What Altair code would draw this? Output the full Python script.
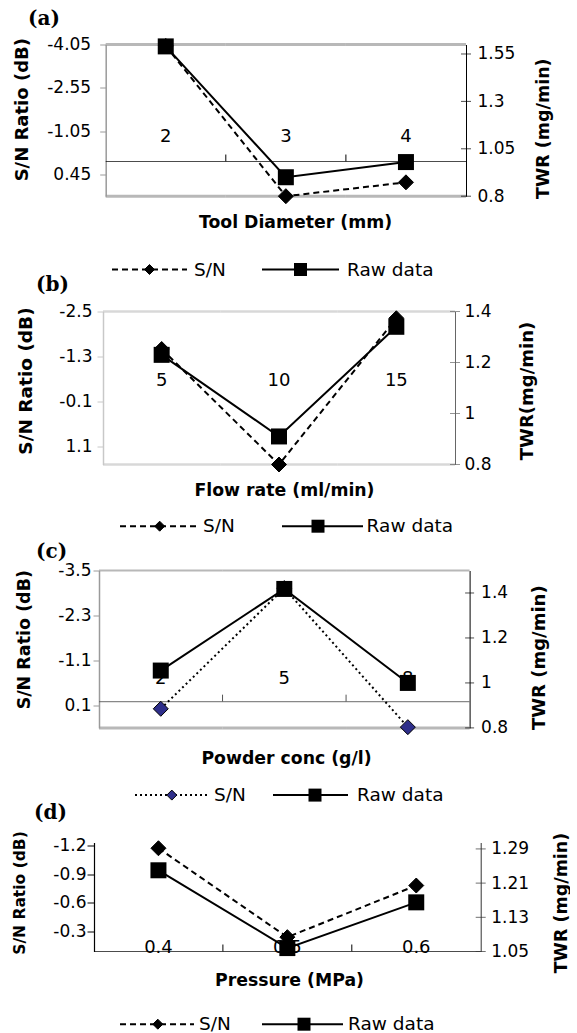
import altair as alt
import pandas as pd

SANS = "DejaVu Sans"
SERIF = "DejaVu Serif"

series_names = ["S/N", "Raw data"]

# (a) tool diameter
a_levels = ["2", "3", "4"]
a_sn = [-4.0, 1.2, 0.72]
a_twr = [1.59, 0.90, 0.98]
a_sn_ticks = [-4.05, -2.55, -1.05, 0.45]
a_twr_ticks = [0.8, 1.05, 1.3, 1.55]

# (b) flow rate
b_levels = ["5", "10", "15"]
b_sn = [-1.5, 1.58, -2.32]
b_twr = [1.23, 0.91, 1.34]
b_sn_ticks = [-2.5, -1.3, -0.1, 1.1]
b_twr_ticks = [0.8, 1.0, 1.2, 1.4]

# (c) powder concentration
c_levels = ["2", "5", "8"]
c_sn = [0.19, -3.03, 0.68]
c_twr = [1.055, 1.418, 1.0]
c_sn_ticks = [-3.5, -2.3, -1.1, 0.1]
c_twr_ticks = [0.8, 1.0, 1.2, 1.4]

# (d) pressure
d_levels = ["0.4", "0.5", "0.6"]
d_sn = [-1.17, -0.24, -0.78]
d_twr = [1.24, 1.058, 1.165]
d_sn_ticks = [-1.2, -0.9, -0.6, -0.3]
d_twr_ticks = [1.05, 1.13, 1.21, 1.29]

X0 = 95  # common x origin of every stacked view

panels = [
    dict(tag="(a)", tag_x=29, tag_off=-3, xtitle="Tool Diameter (mm)", rtitle="TWR (mg/min)",
         levels=a_levels, sn=a_sn, twr=a_twr, sn_ticks=a_sn_ticks, twr_ticks=a_twr_ticks,
         sn_dom=[-4.05, 1.2], twr_dom=[0.8, 1.6],
         left=106.7, right=467, top=44.3, bottom=196,
         cross=0, cross_line=("black", 1.0), bticks=True, label_dy=-25,
         frame=("#9a9a9a", 3, 3), laxis=("#9a9a9a", 1.5, 6, 9), raxis=("black", 10, 11),
         lt=(23, 109, 18), rt=(544, 128, 17.5), xt=(296, 222),
         dash=[6, 4], fill="black"),
    dict(tag="(b)", tag_x=37, tag_off=-2, xtitle="Flow rate (ml/min)", rtitle="TWR(mg/min)",
         levels=b_levels, sn=b_sn, twr=b_twr, sn_ticks=b_sn_ticks, twr_ticks=b_twr_ticks,
         sn_dom=[-2.5, 1.58], twr_dom=[0.8, 1.4],
         left=104, right=456, top=311, bottom=464,
         cross=0, cross_line=None, bticks=False, label_dy=-24.5,
         frame=("#c8c8c8", 2.5, 2.5), laxis=("#c8c8c8", 1.5, 6, 5), raxis=("#666666", 10, 9),
         lt=(26.5, 380, 18.5), rt=(528, 390, 18), xt=(285, 490),
         dash=[6, 4], fill="black"),
    dict(tag="(c)", tag_x=37, tag_off=-10, xtitle="Powder conc (g/l)", rtitle="TWR (mg/min)",
         levels=c_levels, sn=c_sn, twr=c_twr, sn_ticks=c_sn_ticks, twr_ticks=c_twr_ticks,
         sn_dom=[-3.5, 0.7], twr_dom=[0.8, 1.5],
         left=100, right=470.6, top=569.3, bottom=726.7,
         cross=0, cross_line=("#555555", 1.3), bticks=True, label_dy=-22.5,
         frame=("#9a9a9a", 2, 3), laxis=("#9a9a9a", 1.5, 6, 2), raxis=("black", 9, 11),
         lt=(25.8, 638, 17.5), rt=(540, 656, 18), xt=(287, 757),
         dash=[2, 3], fill="#2e2e8a"),
    dict(tag="(d)", tag_x=35, tag_off=-2, xtitle="Pressure (MPa)", rtitle="TWR (mg/min)",
         levels=d_levels, sn=d_sn, twr=d_twr, sn_ticks=d_sn_ticks, twr_ticks=d_twr_ticks,
         sn_dom=[-1.23, -0.09], twr_dom=[1.05, 1.305],
         left=95, right=481.7, top=840, bottom=949,
         cross=-0.09, cross_line=("black", 1.2), bticks=True, label_dy=-4,
         frame=None, laxis=("black", 1.2, 7, 1), raxis=("#333333", 10, 10),
         lt=(20, 890, 15.5), rt=(562.5, 900, 17.5), xt=(290, 978),
         dash=[6, 4], fill="black"),
]

legends = [
    dict(y=269, dash=[6, 4], fill="black",
         items=[(113, 188, 150.5, 195), (263, 340, 301.5, 348)]),
    dict(y=525.7, dash=[6, 4], fill="black",
         items=[(121, 200, 160.7, 204), (283, 364, 319, 367.6)]),
    dict(y=793.3, dash=[2, 3], fill="#2e2e8a",
         items=[(136, 211, 172.8, 215), (274, 349, 316, 358)]),
    dict(y=1021.7, dash=[6, 4], fill="black",
         items=[(121, 195, 158.8, 200), (263, 344, 305, 349)]),
]


def make_panel(p):
    levels = p["levels"]
    df = pd.DataFrame({"level": levels, "sn": p["sn"], "twr": p["twr"]})
    shift = p["left"] - X0
    W = p["right"] - p["left"]
    H = p["bottom"] - p["top"]
    bw = W / len(levels)

    xscale = alt.Scale(type="band", domain=levels, range=[shift, shift + W],
                       paddingInner=0, paddingOuter=0)
    xaxis = alt.Axis(labels=False, ticks=False, domain=False, grid=False,
                     title=p["xtitle"], titleFont=SANS, titleFontSize=17.3,
                     titleFontWeight="bold", titleColor="black",
                     titleX=p["xt"][0] - X0, titleY=p["xt"][1] - p["bottom"],
                     titleBaseline="middle", titleAlign="center")

    def X(**kw):
        return alt.X("level:N", sort=levels, scale=xscale, axis=xaxis, **kw)

    lcol, lw, lts, lpad = p["laxis"]
    lscale = alt.Scale(domain=p["sn_dom"], reverse=True, nice=False, zero=False)
    laxis = alt.Axis(orient="left", values=p["sn_ticks"], labelExpr="toString(datum.value)",
                     offset=-shift, grid=False, domainColor=lcol, domainWidth=lw,
                     tickColor=lcol, tickSize=lts, tickWidth=1, labelPadding=lpad,
                     labelFont=SANS, labelFontSize=17, labelColor="black",
                     title="S/N Ratio (dB)", titleFont=SANS, titleFontSize=p["lt"][2],
                     titleFontWeight="bold", titleColor="black", titleAngle=270,
                     titleX=p["lt"][0] - p["left"], titleY=p["lt"][1] - p["top"],
                     titleBaseline="middle", titleAlign="center")

    def YL_datum(v):
        return alt.Y(datum=v, type="quantitative", scale=lscale, axis=laxis)

    def YL_field():
        return alt.Y("sn:Q", scale=lscale, axis=laxis)

    base = alt.Chart(df)
    left_layers = []
    if p["frame"]:
        fcol, top_w, bot_w = p["frame"]
        left_layers.append(base.mark_tick(orient="horizontal", size=bw, thickness=top_w, color=fcol)
                           .encode(x=X(), y=YL_datum(p["sn_dom"][0])))
        left_layers.append(base.mark_tick(orient="horizontal", size=bw, thickness=bot_w, color=fcol)
                           .encode(x=X(), y=YL_datum(p["sn_dom"][1])))
    if p["cross_line"]:
        ccol, cw = p["cross_line"]
        left_layers.append(base.mark_tick(orient="horizontal", size=bw, thickness=cw, color=ccol)
                           .encode(x=X(), y=YL_datum(p["cross"])))
        if p["bticks"]:
            left_layers.append(
                base.transform_filter(alt.FieldOneOfPredicate(field="level", oneOf=levels[1:]))
                .mark_rule(color=ccol, strokeWidth=1, y2Offset=-7)
                .encode(x=X(bandPosition=0), y=YL_datum(p["cross"]),
                        y2=alt.Y2(datum=p["cross"])))
    left_layers.append(base.mark_text(dy=p["label_dy"], font=SANS, fontSize=18, color="black")
                       .encode(x=X(), y=YL_datum(p["cross"]), text="level:N"))
    left_layers.append(base.mark_line(color="black", strokeWidth=2, strokeDash=p["dash"])
                       .encode(x=X(), y=YL_field()))
    left_layers.append(base.mark_point(shape="diamond", filled=True, size=225, fill=p["fill"],
                                       stroke="black", strokeWidth=1, opacity=1)
                       .encode(x=X(), y=YL_field()))

    # right value axis: its ticks straddle the axis line, so they are drawn as tick marks
    # centred on the right edge of the last category band
    rcol, rts, rpad = p["raxis"]
    rscale = alt.Scale(domain=p["twr_dom"], nice=False, zero=False)
    raxis = alt.Axis(orient="right", values=p["twr_ticks"], labelExpr="toString(datum.value)",
                     grid=False, domainColor=rcol, domainWidth=1, ticks=False,
                     labelPadding=rpad,
                     labelFont=SANS, labelFontSize=17, labelColor="black",
                     title=p["rtitle"], titleFont=SANS, titleFontSize=p["rt"][2],
                     titleFontWeight="bold", titleColor="black", titleAngle=270,
                     titleX=p["rt"][0] - p["right"], titleY=p["rt"][1] - p["top"],
                     titleBaseline="middle", titleAlign="center")
    YR = alt.Y("twr:Q", scale=rscale, axis=raxis)
    tick_df = pd.DataFrame({"level": [levels[-1]] * len(p["twr_ticks"]), "twr": p["twr_ticks"]})
    right = alt.layer(
        alt.Chart(tick_df).mark_tick(orient="horizontal", size=rts, thickness=1, color=rcol,
                                     xOffset=bw / 2)
        .encode(x=X(), y=YR),
        base.mark_line(color="black", strokeWidth=2).encode(x=X(), y=YR),
        base.mark_square(size=256, color="black", opacity=1).encode(x=X(), y=YR),
    )

    return (
        alt.layer(alt.layer(*left_layers), right)
        .resolve_scale(y="independent")
        .properties(
            width=shift + W, height=H,
            title=alt.Title(p["tag"], anchor="start", frame="group", font=SERIF, fontSize=20,
                            fontWeight="bold", color="black", baseline="middle",
                            dx=p["tag_x"] - X0, offset=p["tag_off"]),
        )
    )


def make_legend(L, top, H):
    Wl = 400
    xs = alt.Scale(domain=[0, Wl], nice=False, zero=False)
    ys = alt.Scale(domain=[0, H], reverse=True, nice=False, zero=False)
    row = L["y"] - top

    def XD(v):
        return alt.X(datum=v - X0, type="quantitative", scale=xs, axis=None)

    YD = alt.Y(datum=row, type="quantitative", scale=ys, axis=None)
    layers = []
    for i, (name, (x1, x2, xm, xt)) in enumerate(zip(series_names, L["items"])):
        d = alt.Chart(pd.DataFrame({"series": [name]}))
        if i == 0:
            seg = d.mark_rule(color="black", strokeWidth=2, strokeDash=L["dash"])
            mk = d.mark_point(shape="diamond", filled=True, size=100, fill=L["fill"],
                              stroke="black", strokeWidth=1, opacity=1)
        else:
            seg = d.mark_rule(color="black", strokeWidth=2)
            mk = d.mark_square(size=169, color="black", opacity=1)
        layers.append(seg.encode(x=XD(x1), x2=alt.X2(datum=x2 - X0), y=YD))
        layers.append(mk.encode(x=XD(xm), y=YD))
        layers.append(d.mark_text(align="left", baseline="middle", font=SANS, fontSize=18.5,
                                  color="black")
                      .encode(x=XD(xt), y=YD, text="series:N"))
    return alt.layer(*layers).properties(width=Wl, height=H)


views = []
tops = [p["top"] for p in panels] + [1033]
for k, p in enumerate(panels):
    views.append(make_panel(p))
    views.append(make_legend(legends[k], p["bottom"], tops[k + 1] - p["bottom"]))

chart = (
    alt.vconcat(*views, spacing=0, bounds="flush")
    .properties(padding={"left": 11, "top": 8.5, "right": 0, "bottom": 0},
                background="white")
    .configure_view(stroke=None)
)

chart.save("out.html", embed_options={"renderer": "svg", "actions": False})
